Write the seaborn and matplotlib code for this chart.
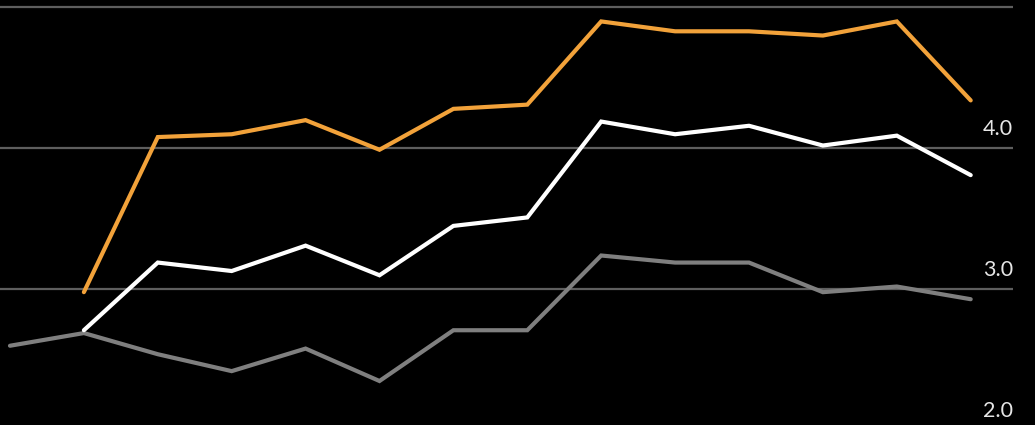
import pandas as pd
import matplotlib.pyplot as plt
import seaborn as sns
import numpy as np

# --- Data ---
periods = list(range(14))
orange_vals = [np.nan, 2.98, 4.08, 4.10, 4.20, 3.99, 4.28, 4.31, 4.90, 4.83, 4.83, 4.80, 4.90, 4.34]
white_vals = [np.nan, 2.71, 3.19, 3.13, 3.31, 3.10, 3.45, 3.51, 4.19, 4.10, 4.16, 4.02, 4.09, 3.81]
gray_vals = [2.60, 2.69, 2.54, 2.42, 2.58, 2.35, 2.71, 2.71, 3.24, 3.19, 3.19, 2.98, 3.02, 2.93]
series_names = ['high', 'mid', 'low']
series_colors = ['#f2a23a', '#ffffff', '#7f7f7f']
grid_values = [2.0, 3.0, 4.0, 5.0]
tick_labels = ['2.0', '3.0', '4.0', '']

df = pd.DataFrame({
    'period': periods * 3,
    'value': orange_vals + white_vals + gray_vals,
    'series': [series_names[0]] * 14 + [series_names[1]] * 14 + [series_names[2]] * 14,
})

sns.set_style('dark')
plt.rcParams['font.family'] = ['Lato', 'DejaVu Sans']

fig = plt.figure(figsize=(10.35, 4.25), dpi=100, facecolor='black')
ax = fig.add_axes([0, 0, 1, 1])
ax.set_facecolor('black')

xmin, xmax = -0.135, 13.87
grid_end = 13.57

# gridlines
for g in grid_values:
    ax.plot([xmin, grid_end], [g, g], color='#5e5e5e', lw=1.6, zorder=1, solid_capstyle='butt')

sns.lineplot(data=df, x='period', y='value', hue='series', hue_order=series_names[::-1],
             palette=dict(zip(series_names, series_colors)), linewidth=3.0,
             legend=False, ax=ax, zorder=3)
for line in ax.lines:
    line.set_solid_joinstyle('miter')

# right-hand labels sitting just above the gridlines
for g, lab in zip(grid_values, tick_labels):
    if lab:
        ax.annotate(lab, xy=(grid_end, g), xytext=(0, 6.5), textcoords='offset points',
                    ha='right', va='bottom', color='#e6e6e6', fontsize=15.5,
                    annotation_clip=False)

ax.set_xlim(xmin, xmax)
ax.set_ylim(2.038, 5.052)
ax.set_xticks([])
ax.set_yticks([])
ax.set_xlabel('')
ax.set_ylabel('')
for s in ax.spines.values():
    s.set_visible(False)
ax.grid(False)

fig.savefig('out.png', dpi=100, facecolor='black')
